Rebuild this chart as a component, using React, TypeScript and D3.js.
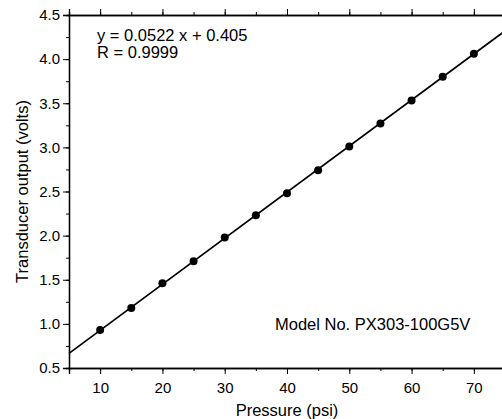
import * as d3 from 'd3';
import { useRef, useEffect } from 'react';

// measured points (psi, volts)
const pressure = [10, 15, 20, 25, 30, 35, 40, 45, 50, 55, 60, 65, 70];
const voltage = [0.93, 1.18, 1.46, 1.71, 1.98, 2.23, 2.48, 2.74, 3.01, 3.27, 3.53, 3.80, 4.06];

// linear fit shown on the chart
const slope = 0.0522;
const intercept = 0.405;
const fitLabel = 'y = 0.0522 x + 0.405';
const rLabel = 'R = 0.9999';
const modelLabel = 'Model No. PX303-100G5V';

const xTicks = [10, 20, 30, 40, 50, 60, 70];
const yTicks = [0.5, 1.0, 1.5, 2.0, 2.5, 3.0, 3.5, 4.0, 4.5];

export default function App() {
  const ref = useRef<SVGSVGElement>(null);

  useEffect(() => {
    const width = 502;
    const height = 419;
    const margin = { top: 15, right: -3, bottom: 51, left: 69 };
    const font = 'Liberation Sans, Arial, sans-serif';

    const svg = d3.select(ref.current)
      .attr('width', width)
      .attr('height', height)
      .style('font-family', font);
    svg.selectAll('*').remove();

    const x = d3.scaleLinear().domain([5, 75]).range([margin.left, width - margin.right]);
    const y = d3.scaleLinear().domain([0.5, 4.5]).range([height - margin.bottom, margin.top]);

    const minorX = d3.range(5, 76, 5);
    const minorY = d3.range(0.5, 4.51, 0.25);

    // bottom axis
    const bottom = svg.append('g')
      .attr('transform', `translate(0,${y(0.5)})`)
      .call(d3.axisBottom(x).tickValues(minorX).tickSizeOuter(0).tickSize(3).tickFormat(() => ''));
    bottom.append('g')
      .call(d3.axisBottom(x).tickValues(xTicks).tickSize(6).tickPadding(8).tickFormat(d3.format('d')));

    // top axis
    svg.append('g')
      .attr('transform', `translate(0,${y(4.5)})`)
      .call(d3.axisTop(x).tickValues(minorX).tickSizeOuter(0).tickSize(3).tickFormat(() => ''))
      .append('g')
      .call(d3.axisTop(x).tickValues(xTicks).tickSize(6).tickFormat(() => ''));

    // left axis
    const left = svg.append('g')
      .attr('transform', `translate(${x(5)},0)`)
      .call(d3.axisLeft(y).tickValues(minorY).tickSizeOuter(0).tickSize(3).tickFormat(() => ''));
    left.append('g')
      .call(d3.axisLeft(y).tickValues(yTicks).tickSize(6).tickPadding(3).tickFormat(d3.format('.1f')));

    svg.selectAll('.domain').attr('stroke-width', 1.3);
    svg.selectAll('.tick line').attr('stroke-width', 1);
    svg.selectAll('.tick text')
      .attr('font-size', 15)
      .attr('font-family', font)
      .attr('fill', '#000');

    // fit line
    const fit = [5, 75].map(p => [x(p), y(slope * p + intercept)] as [number, number]);
    svg.append('path')
      .attr('d', d3.line()(fit))
      .attr('fill', 'none')
      .attr('stroke', '#000')
      .attr('stroke-width', 1.7);

    // data points
    svg.append('g')
      .selectAll('circle')
      .data(pressure)
      .join('circle')
      .attr('cx', d => x(d))
      .attr('cy', (_, i) => y(voltage[i]))
      .attr('r', 4)
      .attr('fill', '#000');

    // annotations
    svg.append('text').attr('x', 97).attr('y', 41).attr('font-size', 16.5).text(fitLabel);
    svg.append('text').attr('x', 97).attr('y', 58).attr('font-size', 16.5).text(rLabel);
    svg.append('text').attr('x', 275).attr('y', 330).attr('font-size', 16.5).text(modelLabel);

    // axis titles
    svg.append('text')
      .attr('x', x(40))
      .attr('y', 416)
      .attr('text-anchor', 'middle')
      .attr('font-size', 16.5)
      .text('Pressure (psi)');
    svg.append('text')
      .attr('transform', `translate(28,${y(2.5)}) rotate(-90)`)
      .attr('text-anchor', 'middle')
      .attr('font-size', 16.5)
      .text('Transducer output (volts)');
  }, []);

  return (
    <svg ref={ref} style={{ position: 'absolute', left: 0, top: 0, background: '#fff' }}></svg>
  );
}
